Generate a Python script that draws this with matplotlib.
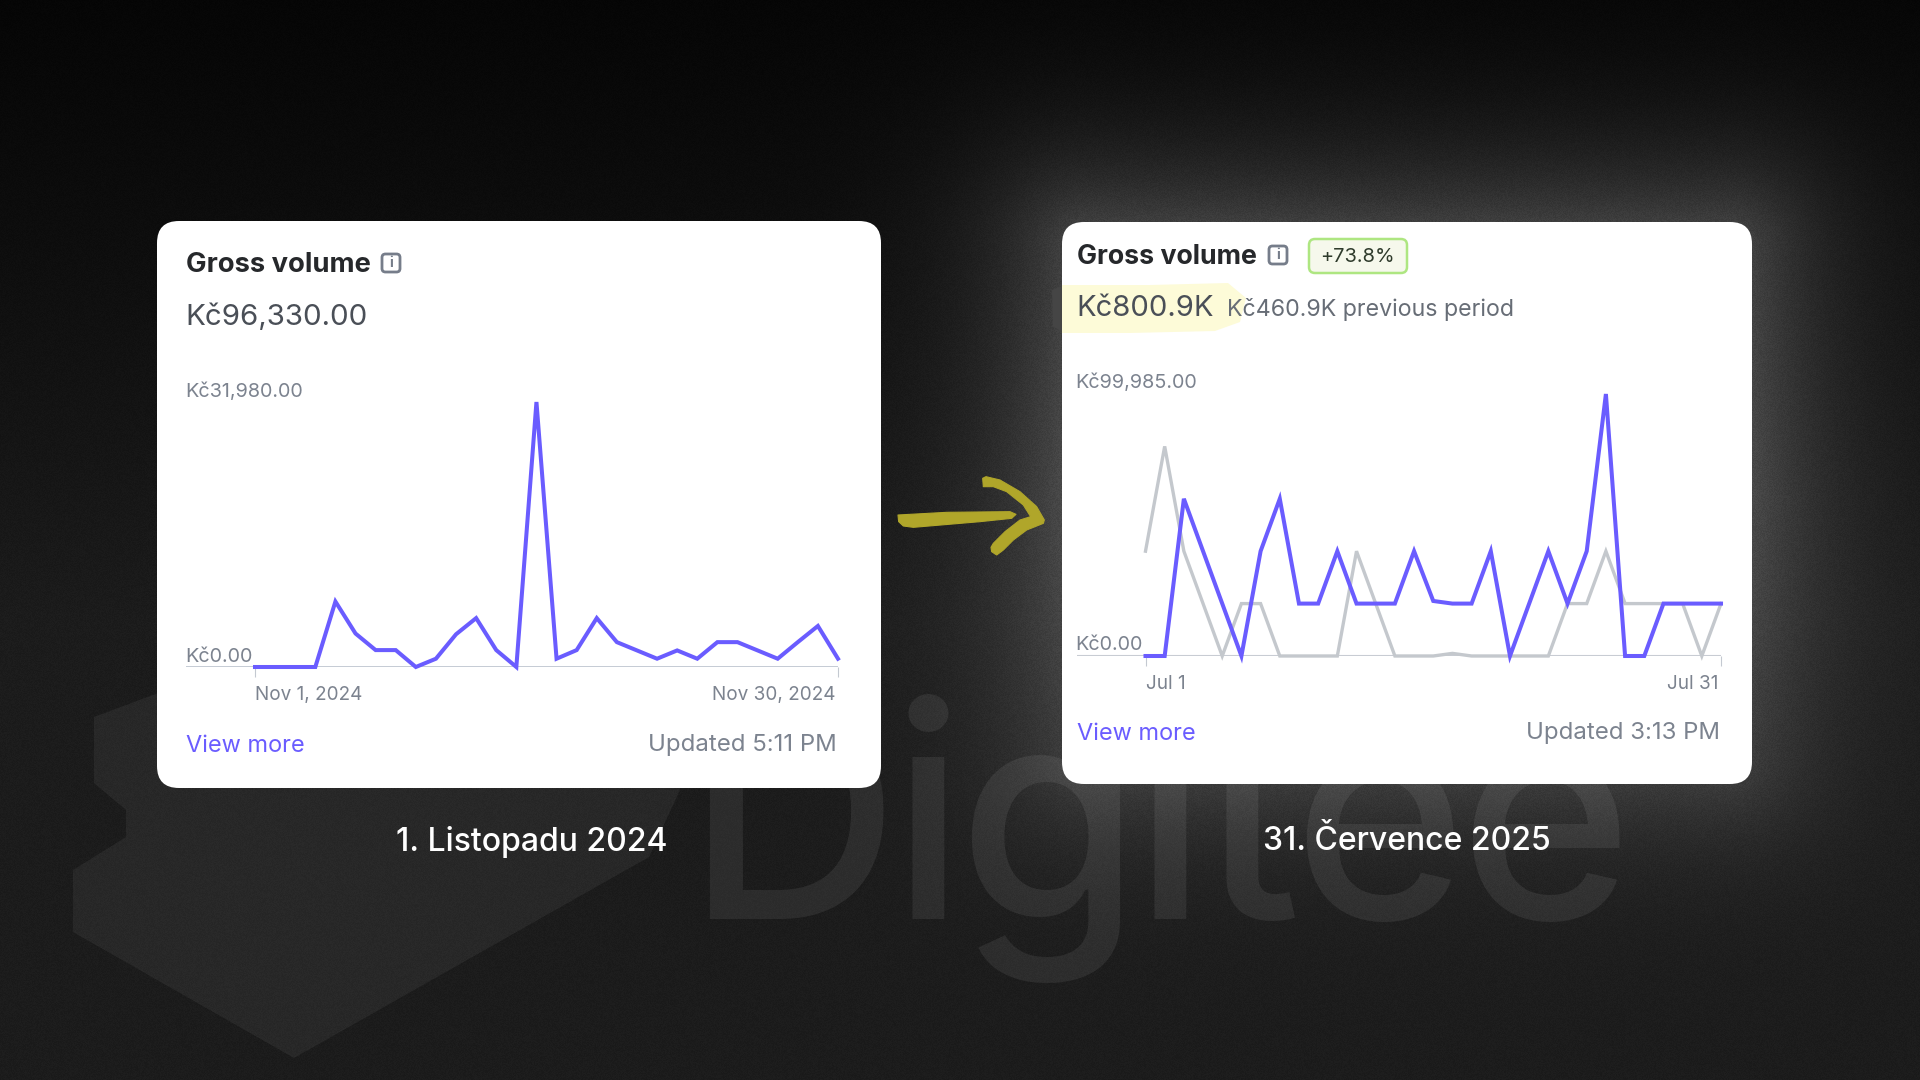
import numpy as np
import matplotlib
matplotlib.use("Agg")
import matplotlib.pyplot as plt
from matplotlib.patches import FancyBboxPatch, Polygon
from matplotlib.font_manager import FontProperties
from matplotlib.textpath import TextToPath
from matplotlib.transforms import ScaledTranslation

plt.rcParams['font.family'] = ['Inter', 'DejaVu Sans']

# === data ===
nov_days = list(range(30))
nov_labels = ["Nov 1, 2024", "Nov 30, 2024"]
nov_volume = [0, 0, 0, 0, 7900, 4040, 2040, 2040, 0, 1000, 3950, 5900, 2040, 0, 31980,
              1000, 2040, 5900, 3000, 2000, 1000, 2000, 1000, 3000, 3000, 2000, 1000,
              3000, 4950, 1000]

jul_days = list(range(31))
jul_labels = ["Jul 1", "Jul 31"]
jul_volume = [0, 0, 60000, 40000, 20000, 0, 40000, 60000, 20000, 20000, 40000, 20000,
              20000, 20000, 40000, 21000, 20000, 20000, 40000, 0, 20000, 40000, 20000,
              40000, 99985, 0, 0, 20000, 20000, 20000, 20000]
jul_previous = [40000, 80000, 40000, 20000, 0, 20000, 20000, 0, 0, 0, 0, 40000, 20000,
                0, 0, 0, 1000, 0, 0, 0, 0, 0, 20000, 20000, 40000, 20000, 20000, 20000,
                20000, 0, 20000]

PURPLE = "#6a5cff"
GRAY_TXT = "#7c838f"
DARK = "#26282b"
MID = "#4a4f57"
W, H = 1920, 1080

fig = plt.figure(figsize=(W / 100, H / 100), dpi=100)
bg = fig.add_axes([0, 0, 1, 1])
bg.set_xlim(0, W)
bg.set_ylim(H, 0)
bg.axis("off")


def px(size):
    return size * 0.72


def rect_sdf(xx, yy, x0, x1, y0, y1):
    dx = np.maximum(np.maximum(x0 - xx, xx - x1), 0)
    dy = np.maximum(np.maximum(y0 - yy, yy - y1), 0)
    return np.hypot(dx, dy)


# --- background: dark gradient, glow behind right card, fine grain ---
yy, xx = np.mgrid[0:H, 0:W].astype(float)
base = 6 + 22 * np.clip(yy / 620, 0, 1) ** 1.1
d = rect_sdf(xx, yy, 1090, 1725, 250, 760)
glow = 62 * np.exp(-(d / 95) ** 1.25)
glow *= np.clip(1.0 - np.clip(yy - 500, 0, None) / 700, 0.35, 1)
img = base + glow
grain = (np.sin(xx * 12.9898 + yy * 78.233) * 43758.5453) % 1.0 - 0.5
img = img + grain * (2 + img * 0.12)
img = np.clip(img, 0, 255) / 255
bg.imshow(np.dstack([img, img, img]), extent=(0, W, H, 0), zorder=0, aspect="auto")

# faint logo behind the cards
logo = [(94, 717), (94, 783), (126, 810), (126, 837), (73, 870), (73, 932), (294, 1058),
        (649, 857), (680, 790), (680, 700), (300, 640)]
bg.add_patch(Polygon(logo, closed=True, fc="white", ec="none", alpha=0.055, zorder=1))

# wordmark has tight tracking, so set it letter by letter
logo_word = "Digitee"
logo_fp = FontProperties(family="Inter", weight="medium", size=px(296))
measure = TextToPath()
for i, ch in enumerate(logo_word):
    adv = measure.get_text_width_height_descent(logo_word[:i], logo_fp, False)[0] if i else 0
    bg.text(685 + adv * 100 / 72 - 8 * i, 919, ch, fontproperties=logo_fp, color="white",
            alpha=0.075, ha="left", va="baseline", zorder=1)


def card(x0, y0, x1, y1):
    r = 22
    bg.add_patch(FancyBboxPatch((x0 + r, y0 + r), x1 - x0 - 2 * r, y1 - y0 - 2 * r,
                                boxstyle=f"round,pad={r},rounding_size={r}",
                                fc="white", ec="none", zorder=2))


def info_icon(cx, cy):
    s = 7
    bg.add_patch(FancyBboxPatch((cx - s, cy - s), 2 * s, 2 * s,
                                boxstyle="round,pad=2,rounding_size=3.5",
                                fc="white", ec="#767d8a", lw=2.0, zorder=3))
    bg.text(cx, cy, "i", fontsize=px(14), fontweight="bold", color="#767d8a",
            ha="center", va="center", zorder=4)


def label(x, y, s, size, color, ha="left", weight="normal"):
    bg.text(x, y + 2.5, s, fontsize=px(size), color=color, ha=ha, va="center",
            fontweight=weight, zorder=5)


def chart(left, right, first, last, top, base_y, days, tick_labels):
    # axes reach left to the y labels so the baseline runs under them
    step = (last - first) / (len(days) - 1)
    ax = fig.add_axes([left / W, 1 - base_y / H, (right - left) / W, (base_y - top) / H])
    ax.patch.set_alpha(0)
    ax.set_zorder(3)
    for sp in ax.spines.values():
        sp.set_visible(False)
    ax.set_xlim(-(first - left) / step, days[-1])
    ax.set_yticks([])
    ax.set_xticks([days[0], days[-1]])
    ax.set_xticklabels(tick_labels, fontsize=px(19), color=GRAY_TXT)
    ax.tick_params(axis="x", length=7, width=0.8, color="#c4c9d1", pad=7)
    ticks = ax.get_xticklabels()
    ticks[0].set_ha("left")
    ticks[1].set_ha("right")
    ticks[1].set_transform(ticks[1].get_transform() + ScaledTranslation(-3 / 100, 0, fig.dpi_scale_trans))
    return ax


# --- left card ---
card(157, 221, 881, 788)
label(186.5, 263, "Gross volume", 27.4, DARK, weight="bold")
info_icon(391, 263)
label(185.5, 315, "Kč96,330.00", 29.5, MID)
label(185, 389, "Kč31,980.00", 19.8, GRAY_TXT)
label(185, 654, "Kč0.00", 19.8, GRAY_TXT)
label(186.5, 743, "View more", 23.5, PURPLE)
label(837, 743, "Updated 5:11 PM", 24, GRAY_TXT, ha="right")

ax1 = chart(186, 838, 255, 838, 402, 667, nov_days, nov_labels)
ax1.set_ylim(0, max(nov_volume))
ax1.axhline(0, color="#c0c6d0", lw=2, zorder=1)
ax1.plot(nov_days, nov_volume, color=PURPLE, lw=2.9, solid_joinstyle="miter", clip_on=False, zorder=3)

# --- right card ---
card(1062, 222, 1752, 784)
highlight = [(1062, 285), (1150, 285), (1228, 283), (1246, 298), (1240, 322),
             (1215, 331), (1130, 333), (1062, 333)]
bg.add_patch(Polygon(highlight, closed=True, fc="#fdfbd8", ec="none", zorder=3))
bg.add_patch(Polygon([(1052, 290), (1062, 286), (1062, 332), (1053, 326)], closed=True,
                     fc="#454545", ec="none", zorder=3))
label(1077, 255, "Gross volume", 26.8, DARK, weight="bold")
info_icon(1278, 255)
bg.add_patch(FancyBboxPatch((1313, 243), 90, 26, boxstyle="round,pad=4,rounding_size=6",
                            fc="#f6f8ec", ec="#aee681", lw=1.8, zorder=3))
label(1357, 254.5, "+73.8%", 20, "#2f3b2c", ha="center")
label(1076, 306.5, "Kč800.9K", 29.2, MID)
label(1227, 307, "Kč460.9K previous period", 23.2, "#676d76")
label(1075, 380, "Kč99,985.00", 19.8, GRAY_TXT)
label(1075, 642, "Kč0.00", 19.8, GRAY_TXT)
label(1077, 731, "View more", 23.5, PURPLE)
label(1720, 731, "Updated 3:13 PM", 24, GRAY_TXT, ha="right")

ax2 = chart(1077, 1721, 1145.5, 1721, 394, 656, jul_days, jul_labels)
ax2.set_ylim(0, max(jul_volume))
ax2.axhline(0, color="#c8ccd3", lw=1.5, zorder=1)
ax2.plot(jul_days, jul_previous, color="#c4c8cd", lw=2.4, solid_joinstyle="miter", clip_on=False, zorder=2)
ax2.plot(jul_days, jul_volume, color=PURPLE, lw=2.9, solid_joinstyle="miter", clip_on=False, zorder=3)

# --- arrow and captions ---
shaft = [(54, 195), (200, 187), (390, 185), (408, 193), (395, 205), (300, 215), (100, 232),
         (70, 228), (56, 215)]
head = [(308, 85), (318, 80), (360, 90), (420, 125), (470, 170), (493, 210), (490, 220),
        (440, 240), (400, 270), (370, 300), (350, 315), (335, 305), (333, 292), (340, 280),
        (375, 245), (420, 210), (452, 200), (430, 165), (380, 125), (340, 110), (310, 110)]
for pts in (shaft, head):
    bg.add_patch(Polygon([(880 + a / 3, 450 + b / 3) for a, b in pts], closed=True,
                         fc="#b0a62a", ec="#b0a62a", lw=0.8, joinstyle="round", zorder=3))

label(532, 839, "1. Listopadu 2024", 32, "white", ha="center", weight="medium")
label(1407, 839, "31. Července 2025", 32, "white", ha="center", weight="medium")

fig.savefig("out.png", dpi=100)
